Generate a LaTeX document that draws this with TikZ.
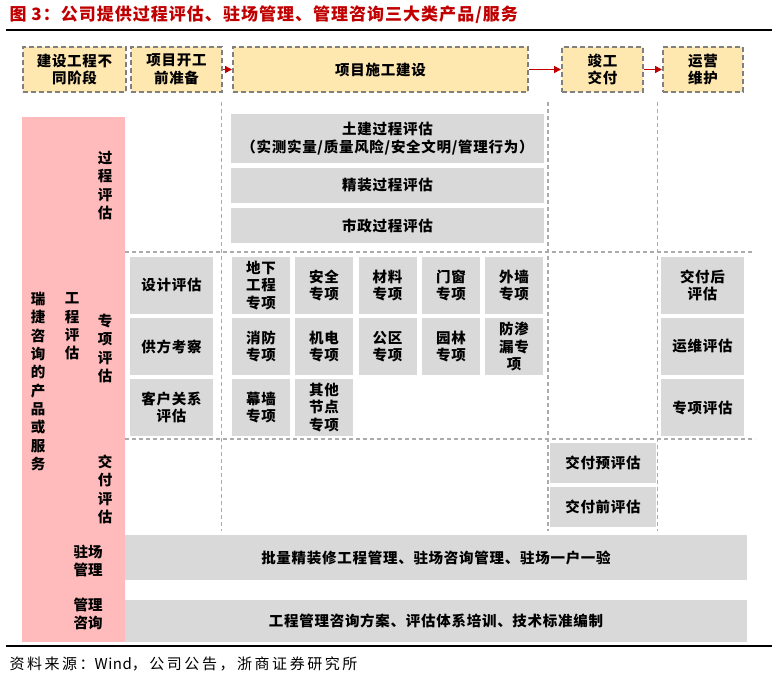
\documentclass[tikz,border=0pt]{standalone}
\usepackage{fontspec}
\setmainfont{Noto Sans CJK SC}
\usepackage{xcolor}
\usetikzlibrary{arrows.meta}
\definecolor{rjred}{HTML}{C00000}
\definecolor{rjpink}{HTML}{FFBBBB}
\definecolor{rjyellow}{HTML}{FFE8B0}
\definecolor{rjgray}{HTML}{D9D9D9}
\definecolor{rjline}{HTML}{ABABAB}
\definecolor{rjdash}{HTML}{808080}

\begin{document}
\begin{tikzpicture}[
  x=1pt,y=-1pt,
  font=\bfseries\fontsize{14.5}{17.5}\selectfont\addfontfeature{LetterSpace=5},
  stage/.style={draw=rjdash,line width=2pt,dash pattern=on 5pt off 3pt,fill=rjyellow,
                minimum height=45pt,align=center,inner sep=0pt},
  cell/.style={fill=rjgray,align=center,inner sep=0pt},
  spec/.style={cell,minimum width=58pt,minimum height=57pt},
  side/.style={cell,minimum width=83pt,minimum height=57pt},
  proc/.style={cell,minimum width=313pt},
  deliv/.style={cell,minimum width=106pt,minimum height=40pt},
  wide/.style={cell,minimum width=622pt},
  vlbl/.style={align=center,inner sep=0pt,font=\bfseries\fontsize{14.5}{18.3}\selectfont},
  gridline/.style={draw=rjline,line width=1.2pt,dash pattern=on 4pt off 3pt},
  flow/.style={-{Triangle[length=7pt,width=7pt]},draw=rjred,line width=1.6pt},
]
\useasboundingbox (0,0) rectangle (778,681);

% title and rules
\node[anchor=west,text=rjred,font=\bfseries\fontsize{17}{20}\selectfont\addfontfeature{LetterSpace=6}] (title) at (6,15)
  {图 3：公司提供过程评估、驻场管理、管理咨询三大类产品/服务};
\draw[line width=1.5pt] (6,30) -- (772,30);
\draw[line width=1.5pt] (6,646) -- (772,646);
\node[anchor=west,font=\fontsize{15}{18}\selectfont\addfontfeature{LetterSpace=17}] (source) at (6,664)
  {资料来源：{\addfontfeature{LetterSpace=3}Wind}，公司公告，浙商证券研究所};

% stages of the project
\node[stage,minimum width=103pt] (stg1) at (74.5,69.5) {建设工程不\\同阶段};
\node[stage,minimum width=91pt]  (stg2) at (176.5,69.5) {项目开工\\前准备};
\node[stage,minimum width=295pt] (stg3) at (380.5,69.5) {项目施工建设};
\node[stage,minimum width=81pt]  (stg4) at (602.5,69.5) {竣工\\交付};
\node[stage,minimum width=80pt]  (stg5) at (703,69.5) {运营\\维护};
\draw[flow] (stg2.east) -- (stg3.west);
\draw[flow] (stg3.east) -- (stg4.west);
\draw[flow] (stg4.east) -- (stg5.west);

% left band with the categories
\node[fill=rjpink,minimum width=103pt,minimum height=525pt,inner sep=0pt] (band) at (73.5,379.5) {};
\node[vlbl] (prod) at (38,381.5) {瑞\\捷\\咨\\询\\的\\产\\品\\或\\服\\务};
\node[vlbl] (eng)  at (72,326.5) {工\\程\\评\\估};
\node[vlbl] (procL) at (105,185.5) {过\\程\\评\\估};
\node[vlbl] (specL) at (105,348.5) {专\\项\\评\\估};
\node[vlbl] (delL) at (105,489.5) {交\\付\\评\\估};
\node[vlbl] (siteL) at (88,561) {驻场\\管理};
\node[vlbl] (mgmtL) at (88,614) {管理\\咨询};

% dashed grid
\draw[gridline] (221.5,102) -- (221.5,531);
\draw[gridline] (548,102) -- (548,531);
\draw[gridline] (657.5,102) -- (657.5,531);
\draw[gridline] (125,252) -- (752,252);
\draw[gridline] (125,439) -- (755,439);

% process evaluation
\node[proc,minimum height=49pt] (tujian) at (387.5,138.5)
  {土建过程评估\\（实测实量/质量风险/安全文明/管理行为）};
\node[proc,minimum height=35pt] (jingz) at (387.5,185.5) {精装过程评估};
\node[proc,minimum height=35pt] (shiz) at (387.5,225.5) {市政过程评估};

% special evaluation
\node[side] (sheji) at (171.5,285.5) {设计评估};
\node[side] (gongf) at (171.5,346.5) {供方考察};
\node[side] (kehu)  at (171.5,407.5) {客户关系\\评估};
\node[spec] (dixia) at (261,285.5) {地下\\工程\\专项};
\node[spec] (anq)   at (324,285.5) {安全\\专项};
\node[spec] (cail)  at (387.5,285.5) {材料\\专项};
\node[spec] (menc)  at (451,285.5) {门窗\\专项};
\node[spec] (waiq)  at (514,285.5) {外墙\\专项};
\node[spec] (xiaof) at (261,346.5) {消防\\专项};
\node[spec] (jid)   at (324,346.5) {机电\\专项};
\node[spec] (gongq) at (387.5,346.5) {公区\\专项};
\node[spec] (yuanl) at (451,346.5) {园林\\专项};
\node[spec] (fangs) at (514,346.5) {防渗\\漏专\\项};
\node[spec] (muq)   at (261,407.5) {幕墙\\专项};
\node[spec] (qita)  at (324,407.5) {其他\\节点\\专项};
\node[side] (jfhou) at (702.5,285.5) {交付后\\评估};
\node[side] (yunw)  at (702.5,346.5) {运维评估};
\node[side] (zhuanx) at (702.5,407.5) {专项评估};

% delivery evaluation
\node[deliv] (jfyu)  at (603,463) {交付预评估};
\node[deliv] (jfqian) at (603,507) {交付前评估};

% on-site management and consulting
\node[wide,minimum height=45pt] (site) at (436,557.5)
  {批量精装修工程管理、驻场咨询管理、驻场一户一验};
\node[wide,minimum height=42pt] (mgmt) at (436,621)
  {工程管理咨询方案、评估体系培训、技术标准编制};
\end{tikzpicture}
\end{document}
